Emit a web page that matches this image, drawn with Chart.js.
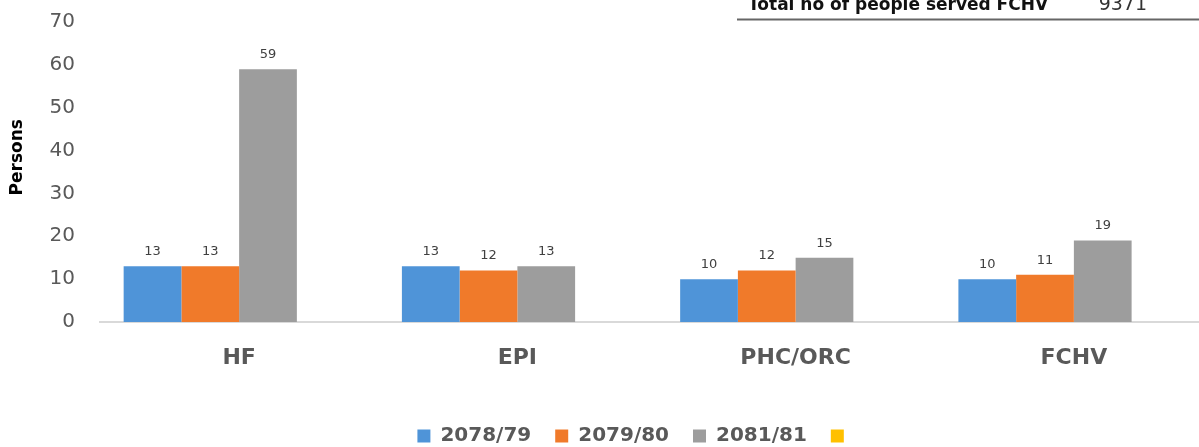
<!DOCTYPE html>
<html>
<head>
<meta charset="utf-8">
<script src="https://cdn.jsdelivr.net/npm/chart.js@4/dist/chart.umd.min.js"></script>
<style>
html,body{margin:0;padding:0;background:#fff;overflow:hidden;width:1199px;height:447px;}
#wrap{position:absolute;left:0;top:0;width:1213px;height:456px;}
</style>
</head>
<body>
<div id="wrap"><canvas id="c"></canvas></div>
<script>
const categories = ['HF', 'EPI', 'PHC/ORC', 'FCHV'];
const seriesNames = ['2078/79', '2079/80', '2081/81', '      '];
const values2078 = [13, 13, 10, 10];
const values2079 = [13, 12, 12, 11];
const values2081 = [59, 13, 15, 19];
const valuesEmpty = [null, null, null, null];
const yTicks = [0, 10, 20, 30, 40, 50, 60, 70];
const yTitle = '     Persons';
const noteLabel = 'Total no of people served FCHV';
const noteValue = '9371';

const colors = ['#4f94d8', '#f07a2a', '#9d9d9d', '#ffc000'];

const dataLabelPlugin = {
  id: 'dataLabels',
  afterDatasetsDraw(chart) {
    const ctx = chart.ctx;
    ctx.save();
    ctx.font = '13px "DejaVu Sans"';
    ctx.fillStyle = '#404040';
    ctx.textAlign = 'center';
    ctx.textBaseline = 'bottom';
    chart.data.datasets.forEach((ds, i) => {
      const meta = chart.getDatasetMeta(i);
      meta.data.forEach((bar, j) => {
        const v = ds.data[j];
        if (v === null || v === undefined) return;
        ctx.fillText(String(v), bar.x, bar.y - 8);
      });
    });
    ctx.restore();
  }
};

const notePlugin = {
  id: 'note',
  afterDraw(chart) {
    const ctx = chart.ctx;
    ctx.save();
    ctx.fillStyle = '#111';
    ctx.textBaseline = 'alphabetic';
    ctx.textAlign = 'left';
    ctx.font = 'bold 17px "DejaVu Sans"';
    ctx.fillText(noteLabel, 748, 10);
    ctx.font = '19px "DejaVu Sans"';
    ctx.fillStyle = '#333';
    ctx.textAlign = 'right';
    ctx.fillText(noteValue, 1147, 10);
    ctx.strokeStyle = '#666';
    ctx.lineWidth = 2;
    ctx.beginPath();
    ctx.moveTo(737, 19.5);
    ctx.lineTo(1213, 19.5);
    ctx.stroke();
    ctx.restore();
  }
};

const seriesData = [values2078, values2079, values2081, valuesEmpty];

new Chart(document.getElementById('c'), {
  type: 'bar',
  data: {
    labels: categories,
    datasets: seriesNames.map((name, i) => ({
      label: name,
      data: seriesData[i],
      backgroundColor: colors[i],
      borderWidth: 0,
      categoryPercentage: 0.83,
      barPercentage: 1.0
    }))
  },
  options: {
    responsive: true,
    maintainAspectRatio: false,
    animation: false,
    layout: { padding: { top: 0, left: 0, right: 0, bottom: 0 } },
    plugins: {
      legend: {
        position: 'bottom',
        fullSize: false,
        labels: {
          boxWidth: 13,
          boxHeight: 13,
          padding: 24,
          color: '#595959',
          font: { family: 'DejaVu Sans', size: 20, weight: 'bold' }
        }
      },
      tooltip: { enabled: false }
    },
    scales: {
      x: {
        grid: { display: false, drawTicks: false },
        border: { display: true, color: '#d9d9d9', width: 2 },
        ticks: {
          padding: 23,
          color: '#595959',
          font: { family: 'DejaVu Sans', size: 22, weight: 'bold' }
        },
        afterFit(scale) { scale.height = 80; }
      },
      y: {
        min: 0,
        max: 70,
        afterBuildTicks(scale) { scale.ticks = yTicks.map(v => ({ value: v })); },
        grid: { display: false, drawTicks: false },
        border: { display: false },
        ticks: {
          padding: 25,
          color: '#595959',
          font: { family: 'DejaVu Sans', size: 20 }
        },
        title: {
          display: true,
          text: yTitle,
          color: '#000',
          padding: { top: 7, bottom: 0 },
          font: { family: 'DejaVu Sans', size: 17, weight: 'bold' }
        },
        afterFit(scale) {
          scale.width = 100;
          scale.paddingTop = 22;
          scale.paddingBottom = 12;
        }
      }
    }
  },
  plugins: [dataLabelPlugin, notePlugin]
});
</script>
</body>
</html>
